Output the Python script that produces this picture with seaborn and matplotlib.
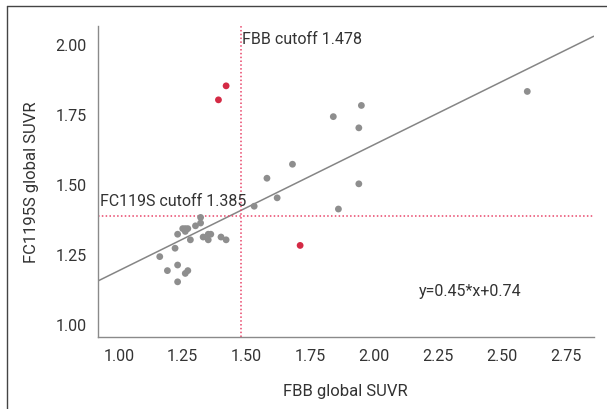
import numpy as np
import pandas as pd
import matplotlib
matplotlib.use("Agg")
import matplotlib.pyplot as plt
from matplotlib.lines import Line2D
import seaborn as sns

# values
fbb = [1.42, 1.39, 1.71,
       2.60, 1.95, 1.84, 1.94, 1.68, 1.58, 1.94, 1.62, 1.53, 1.86,
       1.32, 1.32, 1.30, 1.25, 1.26, 1.27, 1.26, 1.23, 1.28,
       1.33, 1.35, 1.36, 1.35, 1.40, 1.42, 1.22, 1.16, 1.23, 1.19,
       1.27, 1.26, 1.23]
fc119s = [1.85, 1.80, 1.28,
          1.83, 1.78, 1.74, 1.70, 1.57, 1.52, 1.50, 1.45, 1.42, 1.41,
          1.38, 1.36, 1.35, 1.34, 1.34, 1.34, 1.33, 1.32, 1.30,
          1.31, 1.32, 1.32, 1.30, 1.31, 1.30, 1.27, 1.24, 1.21, 1.19,
          1.19, 1.18, 1.15]
discordant = [True, True, True] + [False] * 32

fbb_cutoff = 1.478
fc_cutoff = 1.385
slope, intercept = 0.45, 0.74

df = pd.DataFrame({"FBB": fbb, "FC119S": fc119s, "disc": discordant})

sns.set_style("white")
plt.rcParams['font.family'] = ['Liberation Sans Narrow', 'Roboto', 'DejaVu Sans']

fig = plt.figure(figsize=(6.07, 4.10), dpi=100)
ax = fig.add_axes([0.161, 0.175, 0.817, 0.76])

xlim = (0.917, 2.86)
ylim = (0.952, 2.065)

# fit line across the whole axis
xs = np.array(xlim)
ax.plot(xs, slope * xs + intercept, color="#858585", lw=1.1, zorder=1)

ax.axvline(fbb_cutoff, color="#e8456a", ls=(0, (1, 1.5)), lw=1.1, zorder=1)
ax.axhline(fc_cutoff, color="#e8456a", ls=(0, (1, 1.5)), lw=1.1, zorder=1)

sns.scatterplot(data=df, x="FBB", y="FC119S", hue="disc",
                palette={False: "#8e8e8e", True: "#d42a45"},
                s=24, edgecolor="none", legend=False, ax=ax, zorder=3)

ax.set_xlim(xlim)
ax.set_ylim(ylim)
ax.set_xticks([1.00, 1.25, 1.50, 1.75, 2.00, 2.25, 2.50, 2.75])
ax.set_yticks([1.00, 1.25, 1.50, 1.75, 2.00])
ax.xaxis.set_major_formatter(matplotlib.ticker.FormatStrFormatter("%.2f"))
ax.yaxis.set_major_formatter(matplotlib.ticker.FormatStrFormatter("%.2f"))
ax.tick_params(labelsize=11.5, colors="#333333", length=0, pad=8)

for side in ["top", "right"]:
    ax.spines[side].set_visible(False)
for side in ["left", "bottom"]:
    ax.spines[side].set_color("#8a8a8a")
    ax.spines[side].set_linewidth(1.0)

ax.set_xlabel("FBB global SUVR", fontsize=12, color="#333333", labelpad=14)
ax.set_ylabel("FC1195S global SUVR", fontsize=12, color="#333333", labelpad=12)

ax.text(fbb_cutoff + 0.006, 2.02, "FBB cutoff 1.478", fontsize=11.5,
        color="#333333", ha="left", va="center")
ax.text(0.926, 1.44, "FC119S cutoff 1.385", fontsize=11.5,
        color="#333333", ha="left", va="center")
ax.text(2.378, 1.119, "y=0.45*x+0.74", fontsize=11.5,
        color="#333333", ha="center", va="center")

# frame lines of the figure panel
fig.add_artist(Line2D([0.012, 0.012], [0.0, 0.982], transform=fig.transFigure,
                      color="#444444", lw=1.0))
fig.add_artist(Line2D([0.012, 1.0], [0.982, 0.982], transform=fig.transFigure,
                      color="#444444", lw=1.0))

fig.savefig("out.png", dpi=100)
